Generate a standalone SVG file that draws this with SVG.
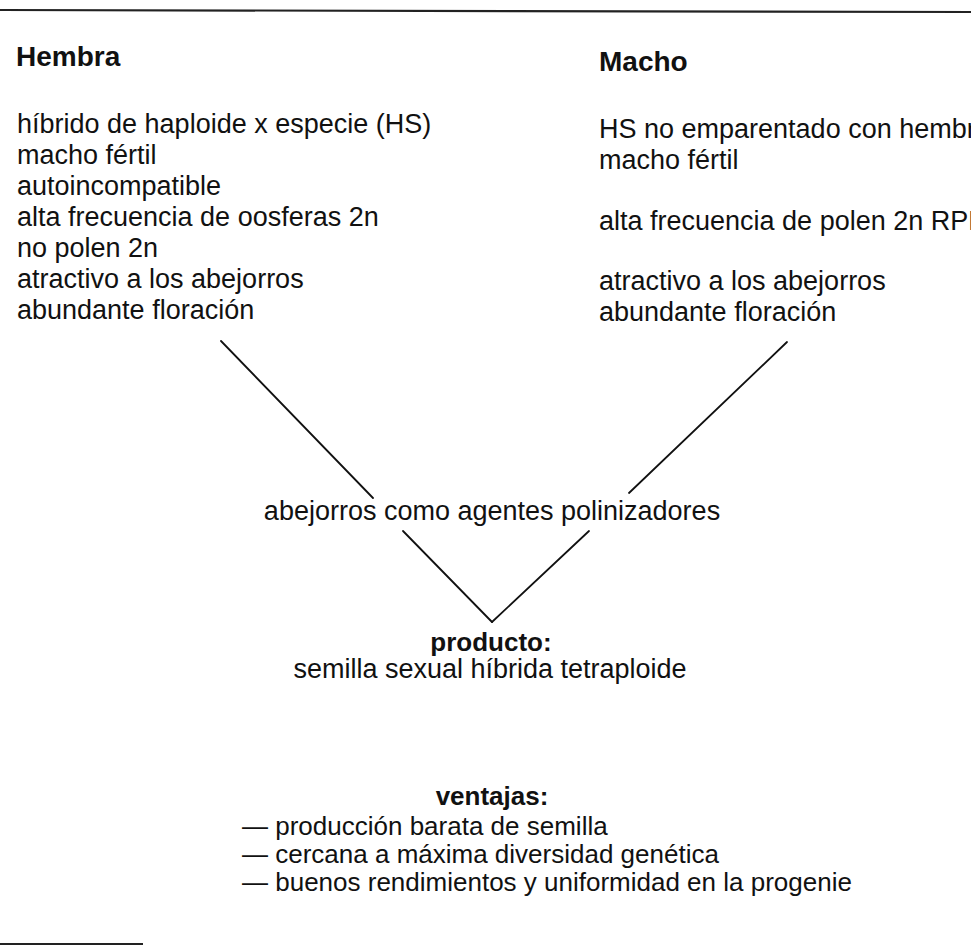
<svg xmlns="http://www.w3.org/2000/svg" width="971" height="952" viewBox="0 0 971 952">
<style>
text{font-family:"Liberation Sans",Arial,sans-serif;font-size:27px;fill:#111}
.b{font-weight:bold}
.h{font-size:28px}
.m{text-anchor:middle}
.s{font-size:26px}
.ln{stroke:#111;stroke-width:1.8;fill:none;stroke-linecap:round}
.rule{stroke:#222;stroke-width:2.2;fill:none}
</style>
<rect width="971" height="952" fill="#fff"/>
<g id="rules">
<line class="rule" x1="0" y1="10" x2="971" y2="12"/>
<line class="rule" x1="0" y1="944" x2="143" y2="944"/>
</g>
<g id="hembra">
<text class="b h" x="16" y="66">Hembra</text>
<text x="17" y="133">híbrido de haploide x especie (HS)</text>
<text x="17" y="164">macho fértil</text>
<text x="17" y="195">autoincompatible</text>
<text x="17" y="226">alta frecuencia de oosferas 2n</text>
<text x="17" y="257">no polen 2n</text>
<text x="17" y="288">atractivo a los abejorros</text>
<text x="17" y="319">abundante floración</text>
</g>
<g id="macho">
<text class="b h" x="599" y="71">Macho</text>
<text x="599" y="138">HS no emparentado con hembra</text>
<text x="599" y="169">macho fértil</text>
<text x="599" y="230">alta frecuencia de polen 2n RPD</text>
<text x="599" y="290">atractivo a los abejorros</text>
<text x="599" y="321">abundante floración</text>
</g>
<g id="polinizadores">
<text class="m" x="492" y="520">abejorros como agentes polinizadores</text>
</g>
<g id="producto">
<text class="b m s" x="491" y="651">producto:</text>
<text class="m" x="490" y="678">semilla sexual híbrida tetraploide</text>
</g>
<g id="ventajas">
<text class="b m s" x="492" y="805">ventajas:</text>
<text class="s" x="242" y="835">— producción barata de semilla</text>
<text class="s" x="242" y="863">— cercana a máxima diversidad genética</text>
<text class="s" x="242" y="891">— buenos rendimientos y uniformidad en la progenie</text>
</g>
<g id="connectors">
<line class="ln" x1="221" y1="341" x2="373" y2="498"/>
<line class="ln" x1="787" y1="342" x2="629" y2="493"/>
<line class="ln" x1="403" y1="531" x2="492" y2="622"/>
<line class="ln" x1="589" y1="531" x2="492" y2="622"/>
</g>
</svg>
